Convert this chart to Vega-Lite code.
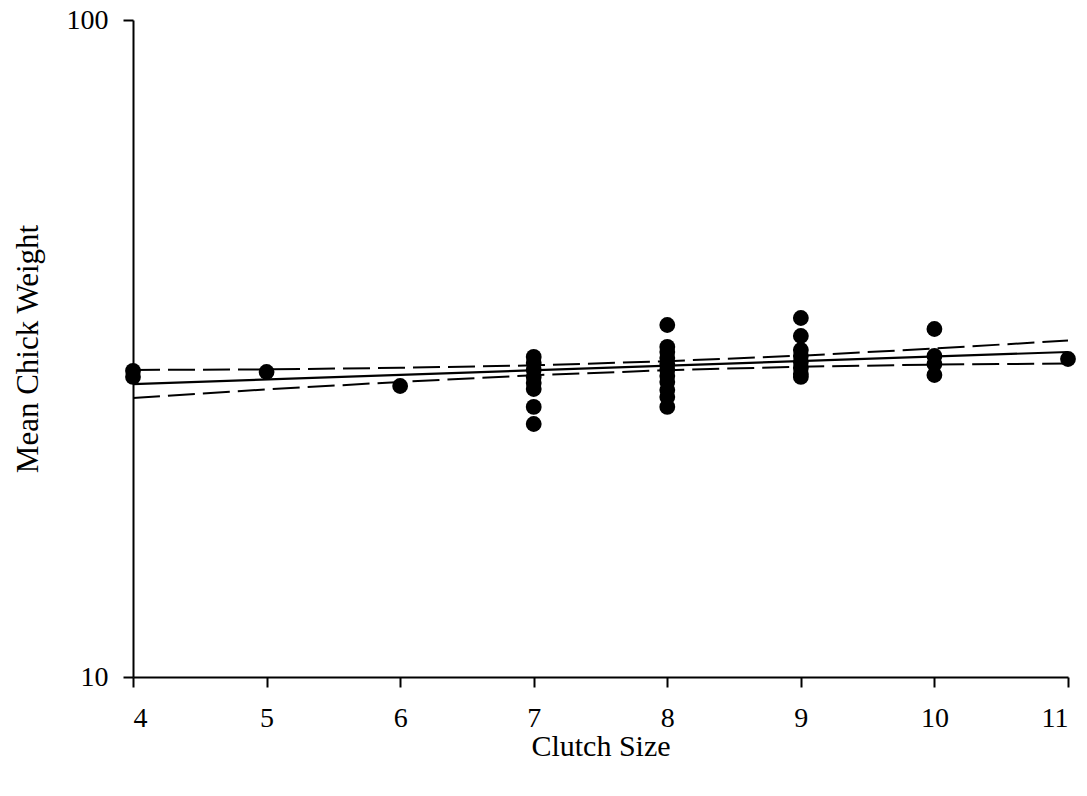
{
  "$schema": "https://vega.github.io/schema/vega-lite/v6.json",
  "width": 935,
  "height": 657,
  "autosize": {"type": "none"},
  "padding": {"left": 133, "top": 20, "right": 19, "bottom": 119},
  "background": "white",
  "config": {
    "view": {"stroke": null},
    "font": "Liberation Serif",
    "axis": {
      "grid": false,
      "domainColor": "black",
      "domainWidth": 2,
      "tickColor": "black",
      "tickWidth": 2,
      "tickSize": 10,
      "labelFont": "Liberation Serif",
      "labelFontSize": 28,
      "labelColor": "black",
      "titleFont": "Liberation Serif",
      "titleFontSize": 30,
      "titleFontWeight": "normal",
      "titleColor": "black"
    }
  },
  "datasets": {
    "points": [
      {"clutch": 4, "weight": 29.23}, {"clutch": 4, "weight": 28.62},
      {"clutch": 5, "weight": 29.12},
      {"clutch": 6, "weight": 27.73},
      {"clutch": 7, "weight": 30.70}, {"clutch": 7, "weight": 30.05}, {"clutch": 7, "weight": 29.34}, {"clutch": 7, "weight": 28.62},
      {"clutch": 7, "weight": 28.02}, {"clutch": 7, "weight": 27.44}, {"clutch": 7, "weight": 25.77}, {"clutch": 7, "weight": 24.27},
      {"clutch": 8, "weight": 34.34}, {"clutch": 8, "weight": 31.80}, {"clutch": 8, "weight": 31.24}, {"clutch": 8, "weight": 30.58},
      {"clutch": 8, "weight": 29.95}, {"clutch": 8, "weight": 29.34}, {"clutch": 8, "weight": 28.72}, {"clutch": 8, "weight": 28.12},
      {"clutch": 8, "weight": 27.34}, {"clutch": 8, "weight": 26.68}, {"clutch": 8, "weight": 25.77},
      {"clutch": 9, "weight": 35.19}, {"clutch": 9, "weight": 33.04}, {"clutch": 9, "weight": 31.46}, {"clutch": 9, "weight": 30.80},
      {"clutch": 9, "weight": 30.16}, {"clutch": 9, "weight": 29.54}, {"clutch": 9, "weight": 28.92}, {"clutch": 9, "weight": 28.62},
      {"clutch": 10, "weight": 33.86}, {"clutch": 10, "weight": 30.80}, {"clutch": 10, "weight": 29.95}, {"clutch": 10, "weight": 28.82},
      {"clutch": 11, "weight": 30.48}
    ],
    "fit": [
      {"clutch": 4, "weight": 27.92},
      {"clutch": 11, "weight": 31.24}
    ],
    "ci": [
      {"clutch": 4, "weight": 29.33, "band": "upper"},
      {"clutch": 5, "weight": 29.39, "band": "upper"},
      {"clutch": 6, "weight": 29.55, "band": "upper"},
      {"clutch": 7, "weight": 29.81, "band": "upper"},
      {"clutch": 8, "weight": 30.25, "band": "upper"},
      {"clutch": 9, "weight": 30.84, "band": "upper"},
      {"clutch": 10, "weight": 31.62, "band": "upper"},
      {"clutch": 11, "weight": 32.52, "band": "upper"},
      {"clutch": 4, "weight": 26.59, "band": "lower"},
      {"clutch": 5, "weight": 27.40, "band": "lower"},
      {"clutch": 6, "weight": 28.13, "band": "lower"},
      {"clutch": 7, "weight": 28.79, "band": "lower"},
      {"clutch": 8, "weight": 29.31, "band": "lower"},
      {"clutch": 9, "weight": 29.67, "band": "lower"},
      {"clutch": 10, "weight": 29.89, "band": "lower"},
      {"clutch": 11, "weight": 30.00, "band": "lower"}
    ]
  },
  "encoding": {
    "x": {
      "field": "clutch", "type": "quantitative",
      "scale": {"domain": [4, 11], "nice": false, "zero": false},
      "axis": {"values": [4, 5, 6, 7, 8, 9, 10, 11], "title": "Clutch Size", "labelPadding": 17, "titleX": 467.5, "titleY": 69, "titleBaseline": "middle", "titleAnchor": null}
    },
    "y": {
      "field": "weight", "type": "quantitative",
      "scale": {"type": "log", "domain": [10, 100], "nice": false},
      "axis": {"values": [10, 100], "title": "Mean Chick Weight", "titleFontSize": 31, "labelPadding": 15, "titleX": -105, "titleY": 328.5, "titleAngle": -90, "titleBaseline": "middle", "titleAlign": "center"}
    }
  },
  "layer": [
    {
      "data": {"name": "ci"},
      "mark": {"type": "line", "color": "black", "strokeWidth": 2, "strokeDash": [27, 8]},
      "encoding": {"detail": {"field": "band"}}
    },
    {
      "data": {"name": "fit"},
      "mark": {"type": "line", "color": "black", "strokeWidth": 2.2}
    },
    {
      "data": {"name": "points"},
      "mark": {"type": "circle", "color": "black", "opacity": 1, "size": 250}
    }
  ]
}
